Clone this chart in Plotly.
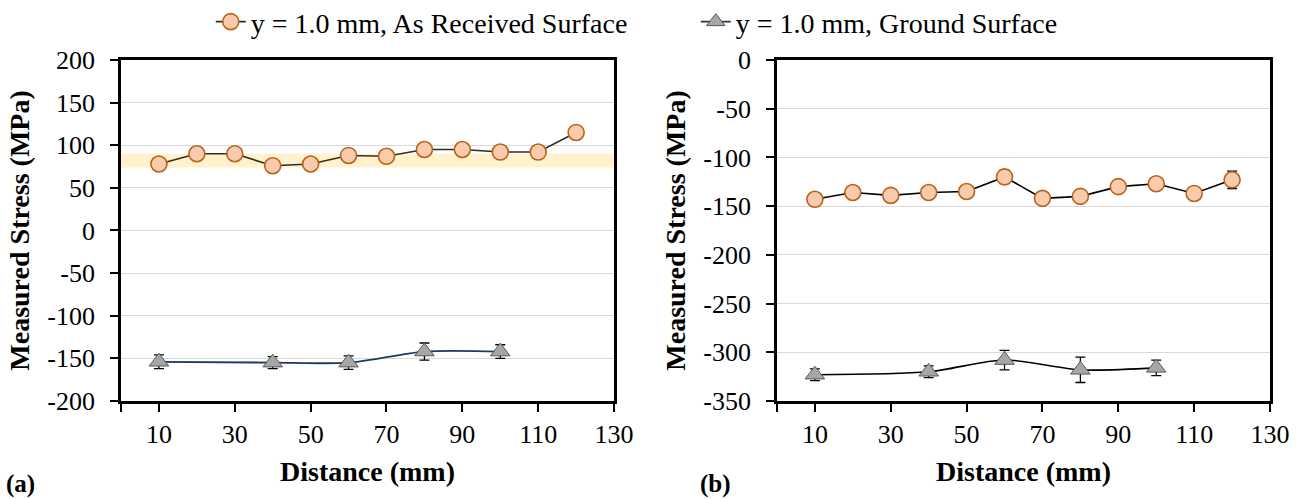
import plotly.graph_objects as go

# Distances along the specimen (mm)
dist_received = [10, 20, 30, 40, 50, 60, 70, 80, 90, 100, 110, 120]
dist_ground = [10, 40, 60, 80, 100]

# (a) measured stress (MPa)
a_received = [78, 90, 90, 76, 78, 88, 87, 95, 95, 92, 92, 115]
a_received_err = [3, 4, 3, 3, 3, 3, 3, 3, 3, 3, 3, 4]
a_ground = [-154, -155, -155, -142, -142]
a_ground_err = [8, 7, 8, 10, 8]

# (b) measured stress (MPa)
b_received = [-143, -136, -139, -136, -135, -120, -142, -140, -130, -127, -137, -123]
b_received_err = [3, 6, 3, 3, 3, 7, 3, 3, 4, 6, 3, 9]
b_ground = [-323, -320, -308, -318, -316]
b_ground_err = [6, 6, 10, 13, 8]

# Shaded band in panel (a) (MPa)
band_a = [74, 90]

x_ticks = [0, 10, 30, 50, 70, 90, 110, 130]
x_ticktext = ["", "10", "30", "50", "70", "90", "110", "130"]
a_yticks = [200, 150, 100, 50, 0, -50, -100, -150, -200]
b_yticks = [0, -50, -100, -150, -200, -250, -300, -350]

name_received = "y = 1.0 mm, As Received Surface"
name_ground = "y = 1.0 mm, Ground Surface"

SERIF = "Liberation Serif"
circle_marker = dict(symbol="circle", size=16, color="#F8CBAD",
                     line=dict(color="#B8621B", width=1.6))
tri_marker = dict(symbol="triangle-up", size=17, color="#A6A6A6",
                  line=dict(color="#595959", width=1))


def err(vals):
    return dict(type="data", array=vals, visible=True, color="black",
                thickness=1.3, width=5)


fig = go.Figure()

fig.add_trace(go.Scatter(
    x=dist_received, y=a_received, error_y=err(a_received_err),
    mode="lines+markers", name=name_received,
    line=dict(color="#2E2E22", width=1.6), marker=circle_marker,
    xaxis="x", yaxis="y"))
fig.add_trace(go.Scatter(
    x=dist_ground, y=a_ground, error_y=err(a_ground_err),
    mode="lines+markers", name=name_ground,
    line=dict(color="#1F3864", width=1.8, shape="spline", smoothing=0.8),
    marker=tri_marker, xaxis="x", yaxis="y"))
fig.add_trace(go.Scatter(
    x=dist_received, y=b_received, error_y=err(b_received_err),
    mode="lines+markers", name=name_received, showlegend=False,
    line=dict(color="black", width=1.6), marker=circle_marker,
    xaxis="x2", yaxis="y2"))
fig.add_trace(go.Scatter(
    x=dist_ground, y=b_ground, error_y=err(b_ground_err),
    mode="lines+markers", name=name_ground, showlegend=False,
    line=dict(color="black", width=1.6, shape="spline", smoothing=0.8),
    marker=tri_marker, xaxis="x2", yaxis="y2"))

fig.add_shape(type="rect", xref="x domain", yref="y", x0=0, x1=1,
              y0=band_a[0], y1=band_a[1], fillcolor="#FFF2CC",
              line=dict(width=0), layer="below")

tick_font = dict(family=SERIF, size=26, color="black")
title_font = dict(family=SERIF, size=28, color="black")

xaxis_common = dict(
    range=[0, 130], tickvals=x_ticks, ticktext=x_ticktext,
    ticks="outside", ticklen=8, tickwidth=2, tickcolor="black",
    showline=True, linecolor="black", linewidth=2.5, mirror=True,
    showgrid=False, zeroline=False, tickfont=tick_font, automargin=False,
    title=dict(text="<b>Distance (mm)</b>", font=title_font, standoff=14))
yaxis_common = dict(
    ticks="outside", ticklen=8, tickwidth=2, tickcolor="black",
    showline=True, linecolor="black", linewidth=2.5, mirror=True,
    showgrid=True, gridcolor="#D9D9D9", gridwidth=1, zeroline=False,
    tickfont=tick_font, automargin=False, ticklabelstandoff=10,
    title=dict(text="<b>Measured Stress (MPa)</b>", font=title_font, standoff=10))

fig.update_layout(
    width=1301, height=499,
    margin=dict(l=0, r=0, t=0, b=0, autoexpand=False),
    paper_bgcolor="white", plot_bgcolor="white",
    font=dict(family=SERIF, color="black"),
    xaxis=dict(domain=[0.093, 0.472], anchor="y", **xaxis_common),
    xaxis2=dict(domain=[0.5972, 0.9762], anchor="y2", **xaxis_common),
    yaxis=dict(domain=[0.1964, 0.8798], anchor="x", range=[-200, 200],
               tickvals=a_yticks, ticktext=[str(v) for v in a_yticks],
               **yaxis_common),
    yaxis2=dict(domain=[0.1964, 0.8798], anchor="x2", range=[-350, 0],
                tickvals=b_yticks, ticktext=[str(v) for v in b_yticks],
                **yaxis_common),
    legend=dict(orientation="h", x=0.162, xanchor="left", y=0.956,
                yanchor="middle", font=dict(family=SERIF, size=28),
                bgcolor="rgba(0,0,0,0)", itemwidth=30,
                entrywidth=440, entrywidthmode="pixels"),
    showlegend=True,
)

fig.add_annotation(text="<b>(a)</b>", x=0.004, y=0.0, xref="paper",
                   yref="paper", xanchor="left", yanchor="bottom",
                   showarrow=False, borderpad=0,
                   font=dict(family=SERIF, size=25))
fig.add_annotation(text="<b>(b)</b>", x=0.537, y=0.0, xref="paper",
                   yref="paper", xanchor="left", yanchor="bottom",
                   showarrow=False, borderpad=0,
                   font=dict(family=SERIF, size=25))

fig.write_html("out.html")
